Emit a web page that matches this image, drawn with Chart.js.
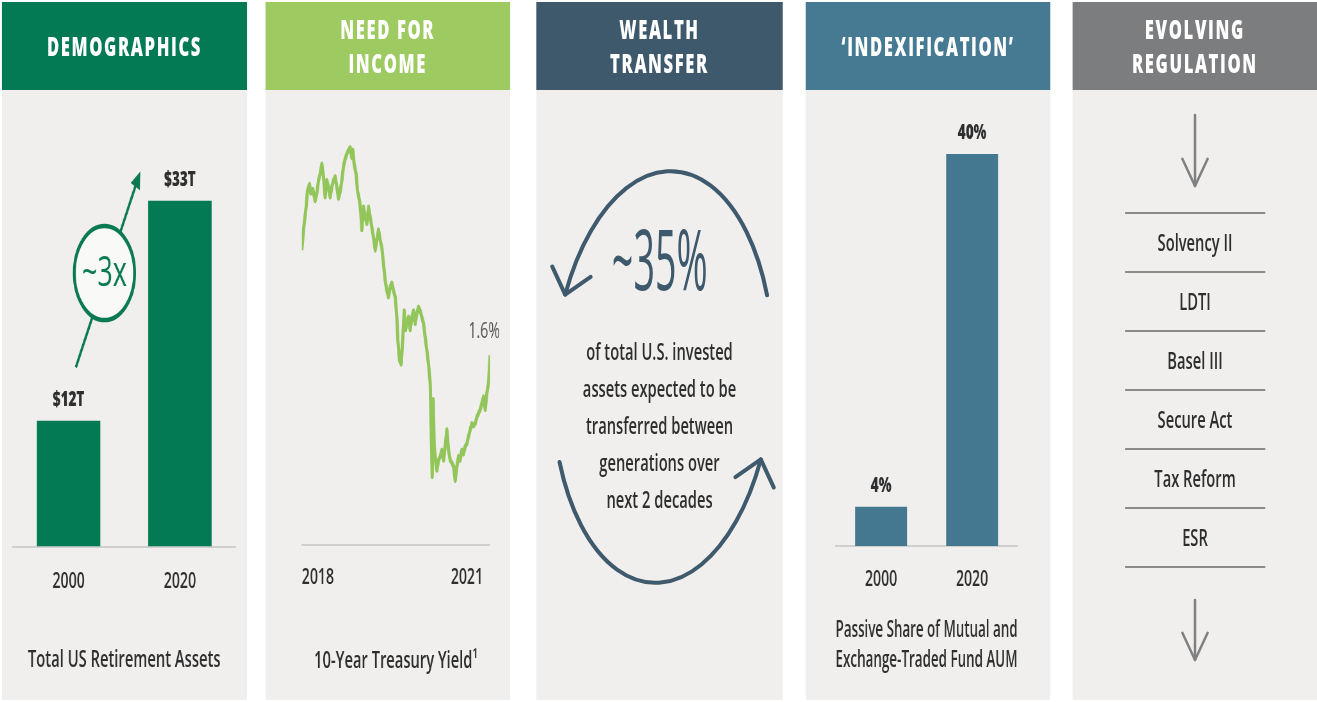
<!DOCTYPE html>
<html>
<head>
<meta charset="utf-8">
<title>Market Drivers</title>
<script src="https://cdn.jsdelivr.net/npm/chart.js@4.4.1/dist/chart.umd.min.js"></script>
<style>
  html, body { margin: 0; padding: 0; background: #fff; }
  body { width: 1317px; height: 702px; overflow: hidden; position: relative; font-family: 'Open Sans', sans-serif; }
  #stage { position: absolute; left: 0; top: 0; height: 702px; transform-origin: 0 0; }
  .panel { position: absolute; top: 2px; height: 698px; background: #f0efee; }
  .panel-head { position: absolute; left: 0; right: 0; top: 0; height: 88px; display: flex; align-items: center; justify-content: center; text-align: center; color: #fff; font-weight: 800; font-size: 26px; letter-spacing: 2.5px; line-height: 34px; }
  .chart-box { position: absolute; top: 90px; height: 610px; }
  .big-stat { position: absolute; top: 208px; height: 100px; line-height: 100px; text-align: center; color: #3e596c; font-size: 84px; font-weight: 400; }
  .big-stat span { display: inline-block; transform: scaleX(0.7); }
  .stat-text { position: absolute; top: 333px; text-align: center; color: #2e2e2e; font-size: 23px; font-weight: 600; line-height: 37px; }
  .reg-list { position: absolute; top: 212px; border-top: 2px solid #8a8a8a; }
  .reg-list div { height: 57px; line-height: 57px; border-bottom: 2px solid #8a8a8a; text-align: center; color: #2e2e2e; font-size: 23px; font-weight: 600; }
  #overlay { position: absolute; left: 0; top: 0; pointer-events: none; }
</style>
</head>
<body>
<div id="stage"></div>
<canvas id="overlay" width="1317" height="702"></canvas>
<script>
// Total US retirement assets
const assetYears = ['2000', '2020'];
const assetValues = [12, 33];
const assetLabels = ['$12T', '$33T'];
const growthText = '~3x';

// 10-year treasury yield (%)
const yieldDates = [
  2018.000, 2018.028, 2018.073, 2018.096, 2018.130, 2018.152, 2018.186, 2018.226, 2018.255, 2018.283,
  2018.311, 2018.340, 2018.368, 2018.396, 2018.425, 2018.453, 2018.481, 2018.510, 2018.538, 2018.566,
  2018.595, 2018.623, 2018.651, 2018.680, 2018.708, 2018.736, 2018.765, 2018.793, 2018.821, 2018.850,
  2018.867, 2018.889, 2018.923, 2018.946, 2018.980, 2019.003, 2019.020, 2019.048, 2019.077, 2019.105,
  2019.133, 2019.162, 2019.190, 2019.218, 2019.247, 2019.275, 2019.303, 2019.332, 2019.360, 2019.388,
  2019.417, 2019.445, 2019.473, 2019.502, 2019.530, 2019.558, 2019.587, 2019.615, 2019.632, 2019.660,
  2019.689, 2019.717, 2019.740, 2019.762, 2019.785, 2019.813, 2019.842, 2019.870, 2019.898, 2019.927,
  2019.955, 2019.983, 2020.012, 2020.040, 2020.068, 2020.097, 2020.125, 2020.153, 2020.182, 2020.199,
  2020.216, 2020.233, 2020.250, 2020.273, 2020.295, 2020.324, 2020.352, 2020.380, 2020.409, 2020.437,
  2020.465, 2020.494, 2020.522, 2020.550, 2020.579, 2020.607, 2020.635, 2020.664, 2020.692, 2020.720,
  2020.748, 2020.777, 2020.805, 2020.833, 2020.862, 2020.890, 2020.918, 2020.947, 2020.975, 2021.003,
  2021.032, 2021.060, 2021.088, 2021.117, 2021.145, 2021.173, 2021.202
];
const yieldValues = [
  2.43, 2.59, 2.77, 2.90, 2.95, 2.88, 2.91, 2.82, 2.88, 2.98,
  3.03, 3.11, 3.01, 2.85, 2.98, 2.93, 2.85, 2.93, 2.98, 3.01,
  2.93, 2.84, 2.89, 2.98, 3.09, 3.15, 3.19, 3.22, 3.24, 3.16,
  3.22, 3.11, 3.03, 2.90, 2.82, 2.72, 2.59, 2.77, 2.69, 2.64,
  2.77, 2.69, 2.61, 2.53, 2.43, 2.51, 2.59, 2.51, 2.45, 2.32,
  2.19, 2.11, 2.06, 2.14, 2.17, 2.11, 2.06, 1.90, 1.72, 1.56,
  1.53, 1.74, 1.95, 1.80, 1.85, 1.90, 1.80, 1.90, 1.95, 1.85,
  1.93, 1.98, 1.95, 1.90, 1.85, 1.74, 1.64, 1.53, 1.38, 1.01,
  0.64, 1.25, 0.88, 0.77, 0.69, 0.77, 0.80, 0.85, 0.77, 0.88,
  1.01, 0.85, 0.77, 0.75, 0.72, 0.61, 0.72, 0.80, 0.77, 0.85,
  0.82, 0.88, 0.90, 0.96, 1.01, 1.06, 1.04, 1.06, 1.11, 1.14,
  1.17, 1.22, 1.27, 1.17, 1.30, 1.38, 1.60
];
const yieldTickValues = [2018, 2021.08];
const yieldTickLabels = ['2018', '2021'];
const yieldEndLabel = '1.6%';

// Passive share of mutual fund and ETF AUM (%)
const passiveYears = ['2000', '2020'];
const passiveValues = [4, 40];
const passiveLabels = ['4%', '40%'];

const regulations = ['Solvency II', 'LDTI', 'Basel III', 'Secure Act', 'Tax Reform', 'ESR'];

// the artwork is squeezed sideways, so everything is laid out wide and scaled down
const SX = 0.64;

const panels = [
  { x0: 2, x1: 247, color: '#047a54', title: 'DEMOGRAPHICS' },
  { x0: 265.5, x1: 510, color: '#9ecb61', title: 'NEED FOR<br>INCOME' },
  { x0: 536.5, x1: 782.5, color: '#3e596c', title: 'WEALTH<br>TRANSFER' },
  { x0: 805.7, x1: 1050.3, color: '#467a92', title: '\u2018INDEXIFICATION\u2019' },
  { x0: 1072.7, x1: 1317, color: '#7c7d7f', title: 'EVOLVING<br>REGULATION' }
];

const stage = document.getElementById('stage');
stage.style.width = (1317 / SX) + 'px';
stage.style.transform = `scaleX(${SX})`;

function place(el, x0, x1) {
  el.style.left = (x0 / SX) + 'px';
  el.style.width = ((x1 - x0) / SX) + 'px';
  stage.appendChild(el);
  return el;
}

function addDiv(cls, x0, x1, html) {
  const el = document.createElement('div');
  el.className = cls;
  el.innerHTML = html;
  return place(el, x0, x1);
}

panels.forEach(p => {
  addDiv('panel', p.x0, p.x1, `<div class="panel-head" style="background:${p.color}">${p.title}</div>`);
});

addDiv('chart-box', panels[0].x0, panels[0].x1, '<canvas id="assetsChart"></canvas>');
addDiv('chart-box', panels[1].x0, panels[1].x1, '<canvas id="yieldChart"></canvas>');
addDiv('chart-box', panels[3].x0, panels[3].x1, '<canvas id="passiveChart"></canvas>');

addDiv('big-stat', panels[2].x0, panels[2].x1, '<span>~35%</span>');
addDiv('stat-text', panels[2].x0, panels[2].x1,
  'of total U.S. invested<br>assets expected to be<br>transferred between<br>generations over<br>next 2 decades');
addDiv('reg-list', 1125, 1265, regulations.map(r => `<div>${r}</div>`).join(''));

Chart.defaults.font.family = "'Open Sans', sans-serif";
Chart.defaults.font.weight = 600;
Chart.defaults.color = '#2e2e2e';
Chart.defaults.animation = false;

// labels above each bar
const valueLabels = {
  id: 'valueLabels',
  afterDatasetsDraw(chart, args, opts) {
    const ctx = chart.ctx;
    ctx.save();
    ctx.font = `800 ${opts.size}px 'Open Sans', sans-serif`;
    ctx.fillStyle = opts.color;
    ctx.textAlign = 'center';
    ctx.textBaseline = 'middle';
    chart.getDatasetMeta(0).data.forEach((bar, i) => {
      ctx.fillText(opts.labels[i], bar.x, bar.y - opts.gap);
    });
    ctx.restore();
  }
};

// the "~3x" arrow between the two bars
const growthBadge = {
  id: 'growthBadge',
  afterDatasetsDraw(chart) {
    const { ctx, scales: { x, y } } = chart;
    const x0 = x.getPixelForValue(0), x1 = x.getPixelForValue(1);
    const at = (f, v) => ({ x: x0 + (x1 - x0) * f, y: y.getPixelForValue(v) });
    const a = at(0.065, 17.1), b = at(0.644, 35.8), c = at(0.322, 26.1);
    const ang = Math.atan2(b.y - a.y, b.x - a.x);
    const cos = Math.cos(ang), sin = Math.sin(ang);
    ctx.save();
    ctx.strokeStyle = '#0b7a52';
    ctx.fillStyle = '#0b7a52';
    ctx.lineWidth = 3.5;
    ctx.beginPath();
    ctx.moveTo(a.x, a.y);
    ctx.lineTo(b.x - 12 * cos, b.y - 12 * sin);
    ctx.stroke();
    ctx.beginPath();
    ctx.moveTo(b.x, b.y);
    ctx.lineTo(b.x - 17 * cos + 8 * sin, b.y - 17 * sin - 8 * cos);
    ctx.lineTo(b.x - 17 * cos - 8 * sin, b.y - 17 * sin + 8 * cos);
    ctx.closePath();
    ctx.fill();
    ctx.beginPath();
    ctx.arc(c.x, c.y, 47, 0, Math.PI * 2);
    ctx.fillStyle = '#f9f9f8';
    ctx.fill();
    ctx.lineWidth = 4.5;
    ctx.stroke();
    ctx.fillStyle = '#0b7a52';
    ctx.font = "400 42px 'Open Sans', sans-serif";
    ctx.textAlign = 'center';
    ctx.textBaseline = 'middle';
    ctx.fillText(growthText, c.x, c.y + 1);
    ctx.restore();
  }
};

// "1.6%" next to the last point of the line
const endLabel = {
  id: 'endLabel',
  afterDatasetsDraw(chart, args, opts) {
    const pts = chart.getDatasetMeta(0).data;
    const last = pts[pts.length - 1];
    const ctx = chart.ctx;
    ctx.save();
    ctx.font = "400 22px 'Open Sans', sans-serif";
    ctx.fillStyle = '#555';
    ctx.textAlign = 'center';
    ctx.textBaseline = 'middle';
    ctx.fillText(opts.text, last.x + opts.dx, last.y + opts.dy);
    ctx.restore();
  }
};

function categoryAxis(tickPad, height) {
  return {
    grid: { display: true, drawOnChartArea: false, drawTicks: false },
    border: { display: true, color: '#cfcfcf', width: 2 },
    ticks: { font: { size: 22, weight: 600 }, color: '#2e2e2e', padding: tickPad },
    afterFit: s => { s.height = height; }
  };
}

function buildCharts() {
  new Chart(document.getElementById('assetsChart'), {
    type: 'bar',
    data: {
      labels: assetYears,
      datasets: [{ data: assetValues, backgroundColor: '#047a54', barPercentage: 0.57, categoryPercentage: 1 }]
    },
    options: {
      responsive: true,
      maintainAspectRatio: false,
      events: [],
      layout: { padding: { left: 17.2, right: 18.75, top: 60, bottom: 0 } },
      plugins: {
        legend: { display: false },
        tooltip: { enabled: false },
        title: { display: true, text: 'Total US Retirement Assets', position: 'bottom', color: '#2e2e2e', font: { size: 23, weight: 600, lineHeight: 1.2 }, padding: { top: 0, bottom: 26.2 } },
        valueLabels: { labels: assetLabels, size: 21, color: '#2e2e2e', gap: 21 }
      },
      scales: {
        x: categoryAxis(22.2, 99.6),
        y: { display: false, min: 0, max: 37.85 }
      }
    },
    plugins: [valueLabels, growthBadge]
  });

  new Chart(document.getElementById('yieldChart'), {
    type: 'line',
    data: {
      datasets: [{
        data: yieldDates.map((d, i) => ({ x: d, y: yieldValues[i] })),
        borderColor: '#93c65a',
        borderWidth: 5,
        borderJoinStyle: 'round',
        pointRadius: 0,
        tension: 0
      }]
    },
    options: {
      responsive: true,
      maintainAspectRatio: false,
      events: [],
      layout: { padding: { left: 56.6, right: 31.25, top: 50, bottom: 0 } },
      plugins: {
        legend: { display: false },
        tooltip: { enabled: false },
        title: { display: true, text: '10-Year Treasury Yield\u00b9', position: 'bottom', color: '#2e2e2e', font: { size: 23, weight: 600, lineHeight: 1.2 }, padding: { top: 0, bottom: 25.2 } },
        endLabel: { text: yieldEndLabel, dx: -9.4, dy: -23 }
      },
      scales: {
        x: {
          type: 'linear',
          min: 2018,
          max: 2021.2,
          grid: { display: true, drawOnChartArea: false, drawTicks: false },
          border: { display: true, color: '#cfcfcf', width: 2 },
          afterBuildTicks: s => { s.ticks = yieldTickValues.map(v => ({ value: v })); },
          ticks: {
            align: 'inner',
            autoSkip: false,
            maxRotation: 0,
            padding: 19.2,
            font: { size: 22, weight: 600 },
            color: '#2e2e2e',
            callback: (v, i) => yieldTickLabels[i]
          },
          afterFit: s => { s.height = 102.2; }
        },
        y: { display: false, min: 0.1, max: 3.3 }
      }
    },
    plugins: [endLabel]
  });

  new Chart(document.getElementById('passiveChart'), {
    type: 'bar',
    data: {
      labels: passiveYears,
      datasets: [{ data: passiveValues, backgroundColor: '#447890', barPercentage: 0.57, categoryPercentage: 1 }]
    },
    options: {
      responsive: true,
      maintainAspectRatio: false,
      events: [],
      layout: { padding: { left: 46.6, right: 51.25, top: 60, bottom: 0 } },
      plugins: {
        legend: { display: false },
        tooltip: { enabled: false },
        title: { display: true, text: ['Passive Share of Mutual and', 'Exchange-Traded Fund AUM'], position: 'bottom', color: '#2e2e2e', font: { size: 23, weight: 600, lineHeight: 1.3 }, padding: { top: 0, bottom: 25 } },
        valueLabels: { labels: passiveLabels, size: 21, color: '#2e2e2e', gap: 21 }
      },
      scales: {
        x: categoryAxis(20.8, 69.2),
        y: { display: false, min: 0, max: 40.41 }
      }
    },
    plugins: [valueLabels]
  });
}

// arcs and arrows drawn straight in page pixels
function drawDecorations() {
  const ctx = document.getElementById('overlay').getContext('2d');
  const deg = d => d * Math.PI / 180;
  const e = { cx: 663, cy: 377, rx: 110, ry: 206, rot: deg(3) };

  function point(t) {
    const ux = e.rx * Math.cos(t), uy = e.ry * Math.sin(t);
    return { x: e.cx + ux * Math.cos(e.rot) - uy * Math.sin(e.rot), y: e.cy + ux * Math.sin(e.rot) + uy * Math.cos(e.rot) };
  }

  function openHead(tip, dirX, dirY, len, spread) {
    const back = Math.atan2(-dirY, -dirX);
    ctx.beginPath();
    ctx.moveTo(tip.x + len * Math.cos(back + spread), tip.y + len * Math.sin(back + spread));
    ctx.lineTo(tip.x, tip.y);
    ctx.lineTo(tip.x + len * Math.cos(back - spread), tip.y + len * Math.sin(back - spread));
    ctx.stroke();
  }

  function arcWithHead(t0, t1) {
    ctx.beginPath();
    ctx.ellipse(e.cx, e.cy, e.rx, e.ry, e.rot, t0, t1, true);
    ctx.stroke();
    // direction of travel at the end (angle decreasing)
    const dx = e.rx * Math.sin(t1), dy = -e.ry * Math.cos(t1);
    const mx = dx * Math.cos(e.rot) - dy * Math.sin(e.rot);
    const my = dx * Math.sin(e.rot) + dy * Math.cos(e.rot);
    openHead(point(t1), mx, my, 31, deg(40));
  }

  ctx.strokeStyle = '#3f5a6d';
  ctx.lineWidth = 4;
  ctx.lineCap = 'round';
  ctx.lineJoin = 'round';
  arcWithHead(deg(-25), deg(-158));
  arcWithHead(deg(154), deg(22));

  // regulation arrows
  ctx.strokeStyle = '#808080';
  ctx.lineWidth = 2.5;
  [[115, 186], [600, 660]].forEach(([y0, y1]) => {
    ctx.beginPath();
    ctx.moveTo(1195, y0);
    ctx.lineTo(1195, y1);
    ctx.stroke();
    openHead({ x: 1195, y: y1 }, 0, 1, 30, deg(25));
  });
}

document.fonts.ready.then(() => {
  buildCharts();
  drawDecorations();
});
</script>
</body>
</html>
